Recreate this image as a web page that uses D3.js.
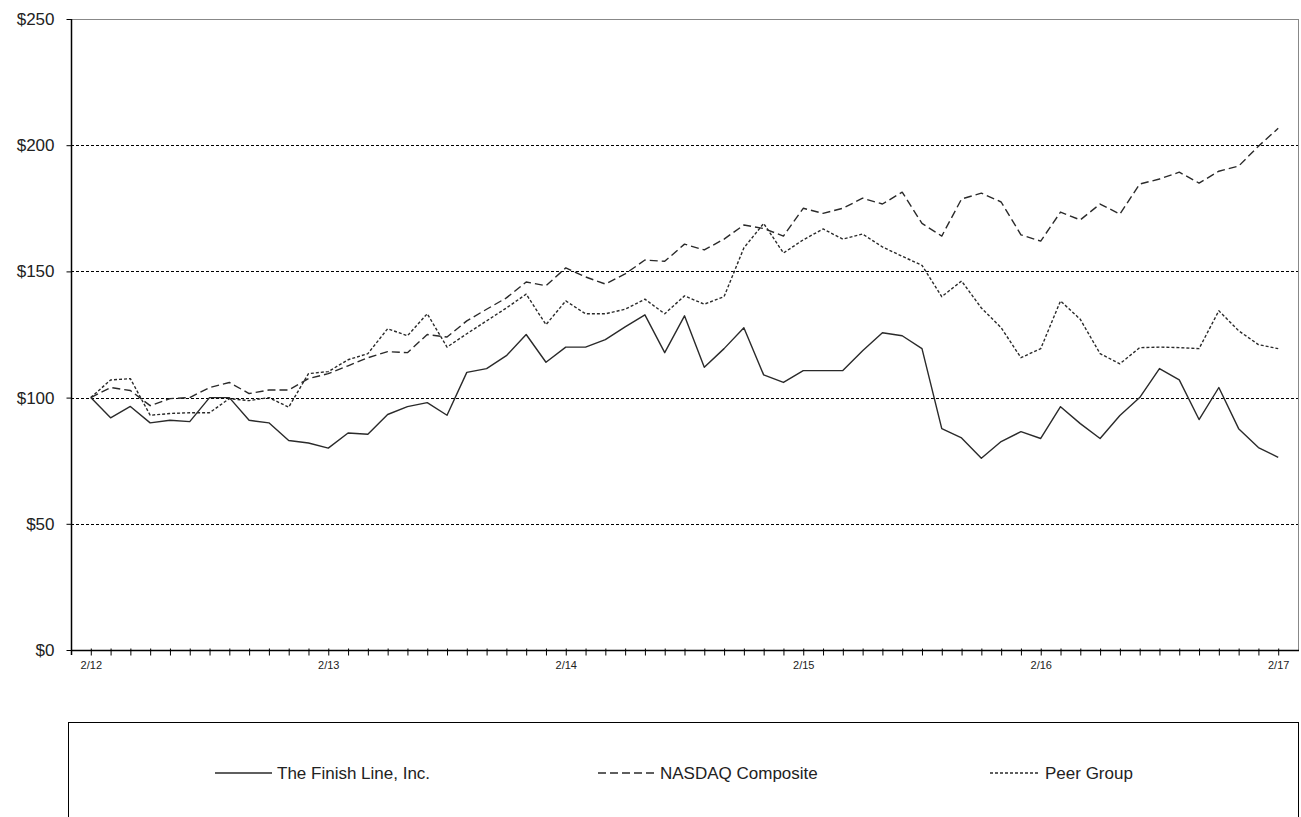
<!DOCTYPE html>
<html>
<head>
<meta charset="utf-8">
<script src="https://cdn.jsdelivr.net/npm/d3@7"></script>
<style>
  html, body { margin: 0; padding: 0; background: #fff; }
  svg { display: block; font-family: "Liberation Sans", Arial, sans-serif; }
</style>
</head>
<body>
<svg id="chart" width="1301" height="817"></svg>
<script>
const categories = [
  "2/12","3/12","4/12","5/12","6/12","7/12","8/12","9/12","10/12","11/12","12/12","1/13",
  "2/13","3/13","4/13","5/13","6/13","7/13","8/13","9/13","10/13","11/13","12/13","1/14",
  "2/14","3/14","4/14","5/14","6/14","7/14","8/14","9/14","10/14","11/14","12/14","1/15",
  "2/15","3/15","4/15","5/15","6/15","7/15","8/15","9/15","10/15","11/15","12/15","1/16",
  "2/16","3/16","4/16","5/16","6/16","7/16","8/16","9/16","10/16","11/16","12/16","1/17",
  "2/17"
];
const tickLabels = ["2/12","2/13","2/14","2/15","2/16","2/17"];
const yTicks = [0, 50, 100, 150, 200, 250];

const finishLine = [100,92,96.5,90,91,90.5,100,100,91,90,
  83,82,80,86,85.5,93.3,96.4,98,93,110,
  111.5,116.6,125,114,120,120,123,128,132.8,117.8,
  132.4,112,119.4,127.7,109,106,110.7,110.7,110.7,118.6,
  125.7,124.5,119.4,87.7,84,76,82.6,86.5,83.8,96.4,
  89.7,83.8,92.9,100,111.5,107,91.3,104,87.7,80.2,
  76.3];
const nasdaq = [100,104,102.8,96.8,99.6,100,104,106,101.6,103,
  103,107.5,109.5,112.6,115.8,118.2,117.8,125,124,130.4,
  135,139.5,145.8,144.3,151.4,147.8,145,149,154.5,154,
  160.8,158.5,162.8,168.4,167,164,175,173,175,179,
  176.7,181.4,169,164,178.7,181,177.5,164.5,162,173.5,
  170.4,176.7,172.7,184.6,186.6,189.3,185,189.7,191.7,199.6,
  206.7];
const peerGroup = [100,107,107.5,93,93.7,94,94,99.6,98.8,100,
  96.2,109.5,110.3,115,117.4,127.3,124.5,133.2,120,125.3,
  130.4,135.5,141,128.9,138.3,133.2,133.2,135,139,133.2,
  140.3,137,140,159.3,169,157.3,162.5,166.8,162.8,164.8,
  159.7,156,152.4,140,146.2,135.5,127.7,115.8,119.4,138.3,
  131,117.4,113.4,119.8,120,119.8,119.4,134.4,126.5,121,
  119.4];

const seriesNames = ["The Finish Line, Inc.", "NASDAQ Composite", "Peer Group"];
const seriesData = [finishLine, nasdaq, peerGroup];
const seriesDash = [null, "8,4", "3,2"];

(function () {
const svg = d3.select("#chart");
const pl = 71, pr = 1298, pt = 19, pb = 650;
const step = (pr - pl) / 62;

const x = d3.scalePoint().domain(categories).range([pl + step, pr - step]);
const y = d3.scaleLinear().domain([0, 250]).range([pb, pt]);

// gridlines
svg.append("g").selectAll("line").data([50, 100, 150, 200]).join("line")
  .attr("x1", pl).attr("x2", pr)
  .attr("y1", d => Math.round(y(d)) + 0.5).attr("y2", d => Math.round(y(d)) + 0.5)
  .attr("stroke", "#000").attr("stroke-width", 1).attr("stroke-dasharray", "3,2");

// top and right border
svg.append("line").attr("x1", pl).attr("x2", pr + 0.5)
  .attr("y1", pt + 0.5).attr("y2", pt + 0.5).attr("stroke", "#888");
svg.append("line").attr("x1", pr + 0.5).attr("x2", pr + 0.5)
  .attr("y1", pt).attr("y2", pb).attr("stroke", "#888");

// y axis
const yAxis = d3.axisLeft(y).tickValues(yTicks).tickSize(5).tickPadding(12)
  .tickFormat(d => "$" + d);
const gy = svg.append("g").attr("transform", `translate(${pl + 0.5},0)`).call(yAxis);
gy.select(".domain").remove();
gy.selectAll(".tick line").attr("stroke", "#000");
gy.selectAll(".tick text").attr("font-size", 17).attr("fill", "#222")
  .attr("font-family", "Liberation Sans, Arial, sans-serif");
svg.append("line").attr("x1", pl + 0.5).attr("x2", pl + 0.5)
  .attr("y1", pt).attr("y2", pb + 5).attr("stroke", "#000").attr("stroke-width", 1.5);

// x axis
const xAxis = d3.axisBottom(x).tickSize(5).tickPadding(6)
  .tickFormat(d => tickLabels.includes(d) ? d : "");
const gx = svg.append("g").attr("transform", `translate(0,${pb + 0.5})`).call(xAxis);
gx.select(".domain").remove();
gx.selectAll(".tick line").attr("stroke", "#000").attr("y1", -2);
gx.selectAll(".tick text").attr("font-size", 11).attr("fill", "#222")
  .attr("font-family", "Liberation Sans, Arial, sans-serif");
svg.append("line").attr("x1", pl).attr("x2", pr + 1)
  .attr("y1", pb + 0.5).attr("y2", pb + 0.5).attr("stroke", "#000").attr("stroke-width", 1.5);

// series
const line = d3.line().x((d, i) => x(categories[i])).y(d => y(d));
seriesData.forEach((data, k) => {
  svg.append("path").datum(data)
    .attr("d", line)
    .attr("fill", "none")
    .attr("stroke", "#2a2a2a")
    .attr("stroke-width", 1.4)
    .attr("stroke-linejoin", "round")
    .attr("stroke-dasharray", seriesDash[k]);
});

// legend
svg.append("rect").attr("x", 68.5).attr("y", 722.5).attr("width", 1230).attr("height", 140)
  .attr("fill", "none").attr("stroke", "#000").attr("stroke-width", 1);
const legendX = [[215, 272], [598, 655], [990, 1040]];
const legendY = 773;
seriesNames.forEach((name, k) => {
  svg.append("line").attr("x1", legendX[k][0]).attr("x2", legendX[k][1])
    .attr("y1", legendY).attr("y2", legendY)
    .attr("stroke", "#2a2a2a").attr("stroke-width", 1.4)
    .attr("stroke-dasharray", seriesDash[k]);
  svg.append("text").attr("x", legendX[k][1] + 5).attr("y", legendY)
    .attr("dy", "0.35em").attr("font-size", 17).attr("fill", "#222")
    .text(name);
});
})();
</script>
</body>
</html>
